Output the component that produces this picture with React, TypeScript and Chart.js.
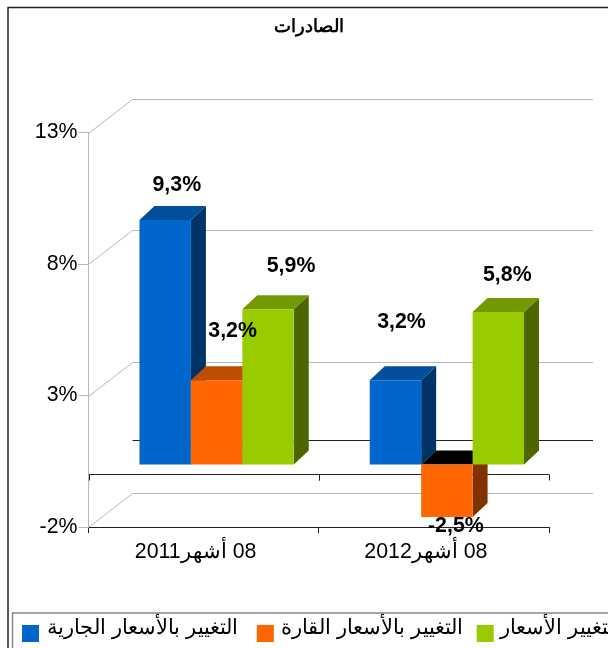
import React, { useEffect, useRef } from "react";
import { Chart, registerables } from "chart.js";

Chart.register(...registerables);

const categories = ["\u202B08 أشهر2011\u202C", "\u202B08 أشهر2012\u202C"];
const seriesNames = ["التغيير بالأسعار الجارية", "التغيير بالأسعار القارة", "التغيير الأسعار"];
const currentPrices = [9.3, 3.2];
const constantPrices = [3.2, -2.5];
const priceChange = [5.9, 5.8];
const frontColors = ["#0066CC", "#FF6600", "#99CC00"];
const topColors = ["#004E9C", "#BF4D00", "#739900"];
const sideColors = ["#003366", "#803300", "#4D6600"];
const labelShift = [
  [[11.6, -35], [6, -58]],
  [[16, -49], [9, -4]],
  [[23, -43.5], [9, -37]],
];
const legendTextGap = [25, 24, 23];
const legendAfterGap = [19, 14, 14];

const FONT = '"Liberation Sans", Arial, sans-serif';
const WALL_DX = 44, WALL_DY = 34, BAR_DX = 13, BAR_LIFT = 10, DEPTH_X = 15, DEPTH_Y = 14;

const poly = (ctx: CanvasRenderingContext2D, pts: number[][], color: string) => {
  ctx.fillStyle = color;
  ctx.beginPath();
  pts.forEach((p, i) => (i ? ctx.lineTo(p[0], p[1]) : ctx.moveTo(p[0], p[1])));
  ctx.closePath();
  ctx.fill();
};

const scene = {
  id: "scene",
  afterLayout(chart: any) {
    if (chart.titleBlock) {
      chart.titleBlock.left = 0;
      chart.titleBlock.right = chart.width;
    }
  },
  beforeDraw(chart: any) {
    const { ctx, scales, chartArea } = chart;
    const y = scales.y;
    ctx.save();
    ctx.fillStyle = "#fff";
    ctx.fillRect(0, 0, chart.width, chart.height);
    // outer frame
    ctx.strokeStyle = "#222";
    ctx.lineWidth = 1.5;
    ctx.beginPath();
    ctx.moveTo(8, 648);
    ctx.lineTo(8, 7.5);
    ctx.lineTo(chart.width, 7.5);
    ctx.stroke();
    // walls
    const L = chartArea.left, R = chartArea.right;
    const backR = R + WALL_DX;
    ctx.lineWidth = 1;
    y.ticks.forEach((t: any) => {
      const py = Math.round(y.getPixelForValue(t.value)) + 0.5;
      ctx.strokeStyle = "#b8b8b8";
      ctx.beginPath();
      ctx.moveTo(L, py);
      ctx.lineTo(L + WALL_DX, py - WALL_DY);
      ctx.lineTo(backR, py - WALL_DY);
      ctx.stroke();
    });
    ctx.strokeStyle = "#222";
    const y0 = Math.round(y.getPixelForValue(0)) + 0.5;
    ctx.beginPath();
    ctx.moveTo(L + WALL_DX, y0 - WALL_DY);
    ctx.lineTo(backR, y0 - WALL_DY);
    ctx.stroke();
    ctx.beginPath();
    ctx.moveTo(L, y0);
    ctx.lineTo(R, y0);
    ctx.stroke();
    scales.x.ticks.forEach((_: any, i: number) => {
      [i, i + 1].forEach((k) => {
        const px = Math.round(L + ((R - L) * k) / categories.length) + 0.5;
        ctx.beginPath();
        ctx.moveTo(px, y0);
        ctx.lineTo(px, y0 + 6);
        ctx.stroke();
      });
    });
    ctx.restore();
  },
  beforeDatasetDraw() {
    return false;
  },
  afterDatasetsDraw(chart: any) {
    const { ctx, chartArea } = chart;
    ctx.save();
    ctx.translate(BAR_DX, -BAR_LIFT);
    chart.data.datasets.forEach((_: any, d: number) => {
      const meta = chart.getDatasetMeta(d);
      meta.data.forEach((b: any) => {
        const l = b.x - b.width / 2, r = b.x + b.width / 2;
        const top = Math.min(b.y, b.base);
        const bot = Math.min(Math.max(b.y, b.base), chartArea.bottom);
        poly(ctx, [[r, top], [r + DEPTH_X, top - DEPTH_Y], [r + DEPTH_X, bot - DEPTH_Y], [r, bot]], sideColors[d]);
        poly(ctx, [[l, top], [l + DEPTH_X, top - DEPTH_Y], [r + DEPTH_X, top - DEPTH_Y], [r, top]], b.y > b.base ? "#000" : topColors[d]);
      });
      ctx.save();
      ctx.beginPath();
      ctx.rect(chartArea.left, chartArea.top, chartArea.right - chartArea.left, chartArea.bottom - chartArea.top);
      ctx.clip();
      meta.controller.draw();
      ctx.restore();
    });
    ctx.restore();
    // value labels
    ctx.save();
    ctx.font = `bold 21.33px ${FONT}`;
    ctx.fillStyle = "#000";
    ctx.textAlign = "center";
    ctx.textBaseline = "middle";
    chart.data.datasets.forEach((ds: any, d: number) => {
      chart.getDatasetMeta(d).data.forEach((b: any, i: number) => {
        const txt = ds.data[i].toFixed(1).replace(".", ",") + "%";
        const s = labelShift[d][i];
        ctx.fillText(txt, b.x + BAR_DX + s[0], b.y - BAR_LIFT + s[1]);
      });
    });
    ctx.restore();
    // legend
    ctx.save();
    ctx.strokeStyle = "#888";
    ctx.lineWidth = 1.5;
    ctx.strokeRect(12.5, 613, 700, 100);
    ctx.font = `21.33px ${FONT}`;
    ctx.textBaseline = "middle";
    ctx.textAlign = "left";
    let x = 22;
    chart.data.datasets.forEach((ds: any, d: number) => {
      ctx.fillStyle = frontColors[d];
      ctx.fillRect(x, 625, 17, 17);
      ctx.fillStyle = "#000";
      const label = "\u202B" + ds.label + "\u202C";
      ctx.fillText(label, x + legendTextGap[d], 628);
      x += legendTextGap[d] + ctx.measureText(label).width + legendAfterGap[d];
    });
    ctx.restore();
  },
};

export default function App() {
  const ref = useRef<HTMLCanvasElement>(null);
  useEffect(() => {
    const chart = new Chart(ref.current!, {
      type: "bar",
      data: {
        labels: categories,
        datasets: [currentPrices, constantPrices, priceChange].map((values, i) => ({
          label: seriesNames[i],
          data: values,
          backgroundColor: frontColors[i],
          borderWidth: 0,
          categoryPercentage: 0.67,
          barPercentage: 1,
        })),
      },
      options: {
        responsive: false,
        animation: false,
        devicePixelRatio: 1,
        layout: { padding: { left: 0, right: 69, top: 0, bottom: 0 } },
        plugins: {
          legend: { display: false },
          tooltip: { enabled: false },
          title: {
            display: true,
            text: "الصادرات",
            font: { family: FONT, size: 18, weight: "bold" },
            color: "#000",
            padding: { top: 16, bottom: 95 },
          },
        },
        scales: {
          x: {
            offset: true,
            grid: { drawOnChartArea: false, color: "#222", tickLength: 6, offset: true },
            border: { color: "#222" },
            ticks: { color: "#000", font: { family: FONT, size: 21.33 }, padding: 6, maxRotation: 0, labelOffset: -8 },
            afterFit: (s: any) => { s.height = 121; },
          },
          y: {
            min: -2,
            max: 13,
            grid: { drawOnChartArea: false, color: "#b8b8b8", tickLength: 10 },
            border: { color: "#b8b8b8" },
            ticks: {
              stepSize: 5,
              color: "#000",
              padding: 1,
              font: { family: FONT, size: 21.33 },
              callback: (v: any) => v + "%",
            },
            afterFit: (s: any) => { s.width = 88.5; },
          },
        },
      },
      plugins: [scene],
    } as any);
    return () => chart.destroy();
  }, []);
  return (
    <div style={{ position: "absolute", left: 0, top: 0, width: 608, height: 648, overflow: "hidden" }}>
      <canvas ref={ref} width={618} height={648} style={{ display: "block" }} />
    </div>
  );
}
